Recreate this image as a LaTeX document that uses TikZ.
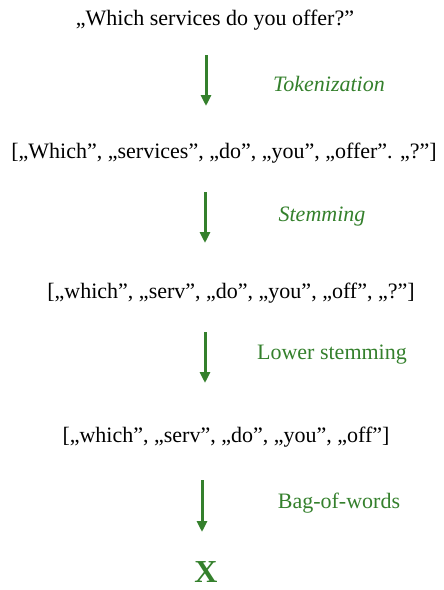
\documentclass[tikz,border=0pt]{standalone}
\usepackage{fontspec}
\setmainfont{Liberation Serif}
\usetikzlibrary{arrows.meta}
\definecolor{stepgreen}{RGB}{52,128,44}

\tikzset{
  sentence/.style={inner sep=0pt, font=\fontsize{22}{26}\selectfont},
  steplabel/.style={inner sep=0pt, text=stepgreen, font=\fontsize{22}{26}\selectfont},
  flow/.style={-{Triangle[length=11pt,width=10pt]}, stepgreen, line width=3pt},
}

\begin{document}
\begin{tikzpicture}[x=1pt,y=-1pt]
			\path[use as bounding box] (0,0) rectangle (444,590);
			% sentences
			\node[sentence] (raw)    at (215,20)  {„Which services do you offer?”};
			\node[sentence] (tokens) at (224,153) {[„Which”, „services”, „do”, „you”, „offer”. „?”]};
			\node[sentence] (stems)  at (231,293) {[„which”, „serv”, „do”, „you”, „off”, „?”]};
			\node[sentence] (lower)  at (226,437) {[„which”, „serv”, „do”, „you”, „off”]};
			\node[text=stepgreen, inner sep=0pt, anchor=base, font=\fontsize{32}{36}\selectfont\bfseries] (vec) at (206,582) {X};
			% arrows
			\coordinate (a1) at (206,55);  \coordinate (b1) at (206,106);
			\coordinate (a2) at (205,192); \coordinate (b2) at (205,243);
			\coordinate (a3) at (205,332); \coordinate (b3) at (205,383);
			\coordinate (a4) at (202,480); \coordinate (b4) at (202,532);
			\draw[flow] (a1) -- (b1);
			\draw[flow] (a2) -- (b2);
			\draw[flow] (a3) -- (b3);
			\draw[flow] (a4) -- (b4);
			% step names
			\node[steplabel, font=\fontsize{22}{26}\selectfont\itshape] (tok) at (329,84)  {Tokenization};
			\node[steplabel, font=\fontsize{22}{26}\selectfont\itshape] (stm) at (322,217) {Stemming};
			\node[steplabel] (low) at (332,355) {Lower stemming};
			\node[steplabel] (bow) at (339,503) {Bag-of-words};
		\end{tikzpicture}
\end{document}
